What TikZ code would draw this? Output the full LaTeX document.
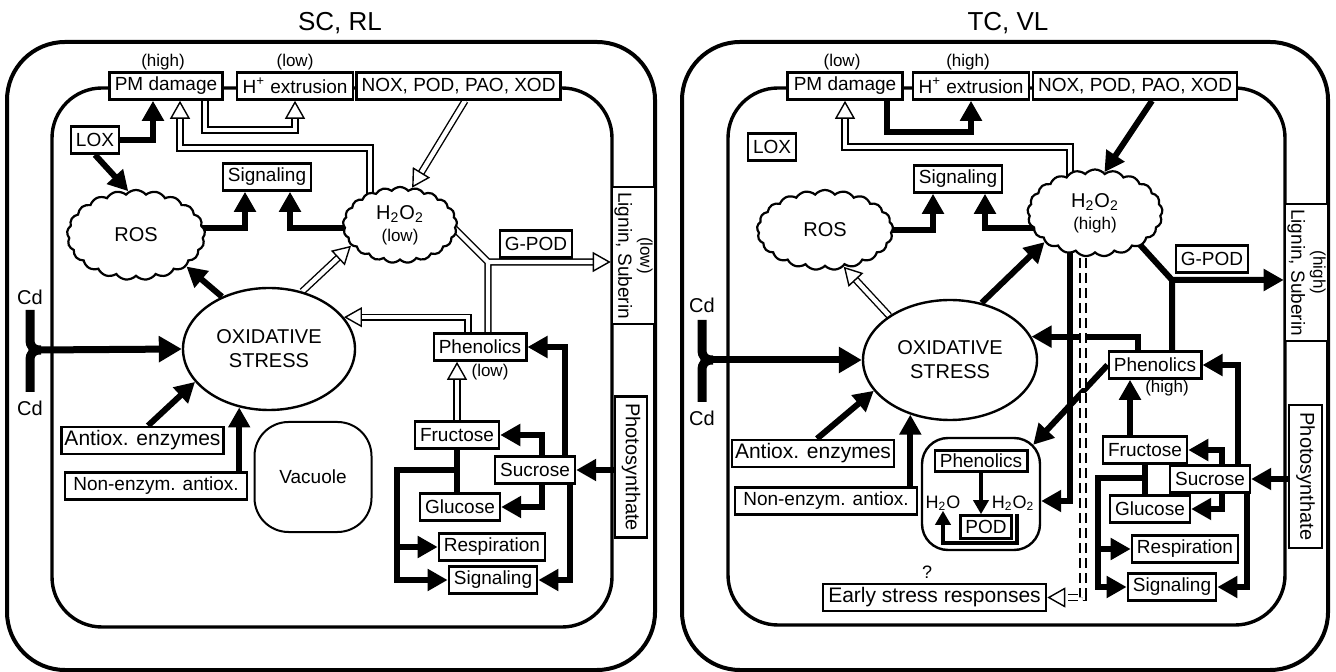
\documentclass[tikz,border=0pt]{standalone}
\usepackage{fontspec}
\setmainfont{Liberation Sans}
\usetikzlibrary{arrows.meta,shapes.geometric,shapes.symbols}
\pgfdeclarelayer{back}
\pgfsetlayers{back,main}

\begin{document}
\begin{tikzpicture}[x=0.5pt,y=-0.5pt,
 box/.style={draw,line width=1.3pt,fill=white,inner xsep=2.5pt,inner ysep=1pt,minimum height=13.5pt,font=\fontsize{9.5}{11}\selectfont},
 bigbox/.style={box,inner xsep=1.5pt,font=\fontsize{10.5}{12}\selectfont},
 vbox/.style={box,rotate=-90,align=center},
 lbl/.style={inner sep=0pt,font=\fontsize{8.5}{9}\selectfont},
 cdl/.style={inner sep=0pt,font=\fontsize{10}{11}\selectfont},
 ttl/.style={inner sep=0pt,font=\fontsize{13}{15}\selectfont},
 puff/.style={cloud,cloud puffs=21,cloud puff arc=100,cloud ignores aspect,draw,line width=1.1pt,fill=white,align=center,inner sep=0pt,font=\fontsize{10}{11}\selectfont},
 stress/.style={ellipse,draw,line width=1.2pt,fill=white,inner sep=0pt,align=center,font=\fontsize{10}{12}\selectfont},
 wall/.style={line width=2pt,rounded corners=29pt},
 membrane/.style={line width=1.7pt,rounded corners=25pt},
 blk/.style={line width=3pt,-{Triangle[length=10pt,width=10.5pt]}},
 blks/.style={line width=2pt,-{Triangle[length=7pt,width=7.5pt]}},
 blkline/.style={line width=3pt},
 cdbar/.style={line width=4.5pt},
 cdarrow/.style={line width=3.5pt,-{Triangle[length=11.5pt,width=12.5pt]}},
 hol/.style={double,double distance=2.2pt,line width=0.7pt,-{Triangle[open,length=9pt,width=10pt]}},
 hold/.style={hol,dash pattern=on 5pt off 2.5pt}]
\useasboundingbox (0,0) rectangle (1336,672);

% SC, RL
\node[ttl] (ttlL) at (340,23) {SC, RL};
\node[lbl] (hiL) at (163,62) {(high)};
\node[lbl] (loL) at (295,62) {(low)};
\node[box,minimum width=56pt] (pmL) at (166,86) {PM damage};
\node[box,minimum width=58pt] (hxL) at (295,86) {H\textsuperscript{+} extrusion};
\node[box,minimum width=95.5pt] (noxL) at (458.5,86) {NOX, POD, PAO, XOD};
\node[box] (loxL) at (95,140) {LOX};
\node[box] (sigL) at (267,177) {Signaling};
\node[puff,minimum width=69pt,minimum height=45pt] (rosL) at (136,235) {ROS};
\node[puff,minimum width=57pt,minimum height=38pt] (hpL) at (400,225) {H\textsubscript{2}O\textsubscript{2}\\{\fontsize{8.5}{9}\selectfont(low)}};
\node[stress,minimum width=86pt,minimum height=61pt] (osL) at (269,349) {OXIDATIVE\\STRESS};
\node[box] (gpL) at (536,244) {G-POD};
\node[vbox,minimum width=67.5pt,minimum height=21.5pt] (ligL) at (633.5,255.5) {{\fontsize{8.5}{9}\selectfont(low)}\\Lignin, Suberin};
\node[box] (phL) at (480,347) {Phenolics};
\node[lbl] (phlL) at (490,372) {(low)};
\node[box] (frL) at (457,435) {Fructose};
\node[box] (sucL) at (535,470) {Sucrose};
\node[box] (glL) at (460,507) {Glucose};
\node[box] (reL) at (492,547) {Respiration};
\node[box] (sgL) at (493,580) {Signaling};
\node[vbox,minimum width=70.5pt,minimum height=16pt,font=\fontsize{10}{11}\selectfont] (phoL) at (631,467) {Photosynthate};
\node[bigbox,minimum width=79.5pt] (aeL) at (142.5,440.5) {Antiox. enzymes};
\node[box,minimum width=91pt] (neL) at (156,486) {Non-enzym. antiox.};
\node[draw,line width=1pt,rounded corners=17pt,minimum width=58.5pt,minimum height=55pt,font=\fontsize{9.5}{10}\selectfont] (vacL) at (313,477) {Vacuole};
\node[cdl] (cdaL) at (30,297) {Cd};
\node[cdl] (cdbL) at (30,408) {Cd};

% TC, VL
\node[ttl] (ttlR) at (1008,23) {TC, VL};
\node[lbl] (loR) at (842,62) {(low)};
\node[lbl] (hiR) at (968,62) {(high)};
\node[box,minimum width=57.5pt] (pmR) at (845,86) {PM damage};
\node[box,minimum width=58pt] (hxR) at (971,86) {H\textsuperscript{+} extrusion};
\node[box,minimum width=95pt] (noxR) at (1135,86) {NOX, POD, PAO, XOD};
\node[box] (loxR) at (772,147) {LOX};
\node[box] (sigR) at (958,179) {Signaling};
\node[puff,minimum width=68pt,minimum height=40pt] (rosR) at (825,230) {ROS};
\node[puff,minimum width=67.5pt,minimum height=43.5pt] (hpR) at (1095,213) {H\textsubscript{2}O\textsubscript{2}\\{\fontsize{8.5}{9}\selectfont(high)}};
\node[stress,minimum width=87pt,minimum height=60pt] (osR) at (950,360) {OXIDATIVE\\STRESS};
\node[box] (gpR) at (1212,259) {G-POD};
\node[vbox,minimum width=67.5pt,minimum height=21.5pt] (ligR) at (1306.5,272.5) {{\fontsize{8.5}{9}\selectfont(high)}\\Lignin, Suberin};
\node[box] (phR) at (1155,365) {Phenolics};
\node[lbl] (phhR) at (1167,388) {(high)};
\node[box] (frR) at (1145,450) {Fructose};
\node[box] (sucR) at (1210,479) {Sucrose};
\node[box] (glR) at (1150,509) {Glucose};
\node[box] (reR) at (1185,549) {Respiration};
\node[box] (sgR) at (1172,587) {Signaling};
\node[vbox,minimum width=71.5pt,minimum height=16.5pt,font=\fontsize{10}{11}\selectfont] (phoR) at (1305.5,476.5) {Photosynthate};
\node[bigbox,minimum width=80pt] (aeR) at (813,453.5) {Antiox. enzymes};
\node[box,minimum width=91pt] (neR) at (826,501) {Non-enzym. antiox.};
\node[draw,line width=1.2pt,fill=white,rounded corners=13pt,minimum width=59pt,minimum height=56pt] (podcR) at (981,494) {};
\node[box,inner ysep=0pt,minimum height=10.5pt] (phiR) at (981,461) {Phenolics};
\node[cdl,font=\fontsize{9}{10}\selectfont] (h2oR) at (943,503) {H\textsubscript{2}O};
\node[cdl,font=\fontsize{9}{10}\selectfont] (h2o2R) at (1013,503) {H\textsubscript{2}O\textsubscript{2}};
\node[box,inner ysep=0pt,minimum height=11.5pt] (podR) at (986,527) {POD};
\node[bigbox,minimum width=111.5pt] (esR) at (934.5,597.5) {Early stress responses};
\node[lbl,font=\fontsize{9}{10}\selectfont] (qR) at (927,572) {?};
\node[cdl] (cdaR) at (702,305) {Cd};
\node[cdl] (cdbR) at (702,418) {Cd};

\begin{pgfonlayer}{back}
\draw[wall] (7,42) rectangle (655,670);
\draw[membrane] (52,88) rectangle (612,627);
\draw[wall] (682,42) rectangle (1328,670);
\draw[membrane] (728,88) rectangle (1285,625);

\draw[blk] (loxL.east) -| (153,0 |- pmL.south);
\draw[blk] (loxL.south) -- (rosL.100);
\draw[blk] (rosL.center |- 0,228) -| (245,0 |- sigL.south);
\draw[blk] (hpL.center |- 0,228) -| (290,0 |- sigL.south);
\draw[blk] (osL.132) -- (rosL.-32);
\draw[hol] (205,0 |- pmL.south) |- (hxL.south |- 0,130) -- (hxL.south);
\draw[hol] (370,225) |- (180,148) -- (180,0 |- pmL.south);
\draw[hol] (465,0 |- noxL.south) -- (hpL.72);
\draw[hol] (osL.60) -- (hpL.203);
\draw[hol] (468,0 |- phL.north) |- (osL.23);
\draw[hol] (488,262) -- (488,0 |- phL.north) (450,224) -- (488,262) -- (ligL.south |- 0,262);
\draw[hol] (frL.north) -- (frL.north |- phL.south);
\draw[blk] (phoL.south |- sucL.east) -- (sucL.east);
\draw[blk] (565,0 |- sucL.north) |- (phL.east);
\draw[blk] (542,0 |- sucL.north) |- (frL.east);
\draw[blk] (542,0 |- sucL.south) |- (glL.east);
\draw[blk] (570,0 |- sucL.south) |- (sgL.east);
\draw[blkline] (frL.south) -- (frL.south |- glL.north);
\draw[blk] (frL.south |- 0,470) -| (397,0 |- sgL.west) -- (sgL.west);
\draw[blk] (397,0 |- reL.west) -- (reL.west);
\draw[cdbar] (30,310) -- (30,339) .. controls (30,347) and (33,350) .. (41,350) .. controls (33,350) and (30,353) .. (30,361) -- (30,392);
\draw[cdarrow] (38,350) -- (osL.west);
\draw[blk] (148,0 |- aeL.north) -- (osL.204);
\draw[blk] (osL.243 |- neL.north) -- (osL.243);

\draw[blk] (887,0 |- pmR.south) |- (hxR.south |- 0,132) -- (hxR.south);
\draw[hol] (1070,205) |- (pmR.south |- 0,147) -- (pmR.south);
\draw[blk] (1152,0 |- noxR.south) -- (hpR.77);
\draw[blk] (rosR.center) -| (933,0 |- sigR.south);
\draw[blk] (hpR.center |- 0,228) -| (985,0 |- sigR.south);
\draw[hol] (osR.144) -- (rosR.-63);
\draw[blk] (osR.61) -- (hpR.210);
\draw[blk] (1172,280) -- (1172,0 |- phR.north) (1132,236) -- (1172,280) -- (ligR.south |- 0,280);
\draw[blk] (1138,0 |- phR.north) |- (osR.16);
\draw[blk] (phR.west) -- ([xshift=-4pt,yshift=-4pt]podcR.north east);
\draw[blk] (hpR.center -| 1070,0) |- (podcR.east |- 0,501);
\draw[hold] (hpR.center -| 1083,0) |- (esR.east);
\draw[blk] (1130,0 |- frR.north) -- (1130,0 |- phR.south);
\draw[blk] (phoR.south |- sucR.east) -- (sucR.east);
\draw[blk] (1238,0 |- sucR.north) |- (phR.east);
\draw[blk] (1222,0 |- sucR.north) |- (frR.east);
\draw[blk] (1222,0 |- sucR.south) |- (glR.east);
\draw[blk] (1247,0 |- sucR.south) |- (sgR.east);
\draw[blkline] (frR.south) -- (frR.south |- glR.north);
\draw[blk] (frR.south |- 0,478) -| (1098,0 |- sgR.west) -- (sgR.west);
\draw[blk] (1098,0 |- reR.west) -- (reR.west);
\draw[cdbar] (702,320) -- (702,349) .. controls (702,357) and (705,360) .. (713,360) .. controls (705,360) and (702,363) .. (702,371) -- (702,402);
\draw[cdarrow] (710,360) -- (osR.west);
\draw[blk] (817,0 |- aeR.north) -- (osR.202);
\draw[blk] (osR.234 |- neR.north) -- (osR.234);
\end{pgfonlayer}
\draw[blks] (phiR.south) -- (phiR.south |- podR.north);
\draw[blks] (1017,0 |- podR.north) |- (h2oR.south |- 0,543) -- (h2oR.south);
\end{tikzpicture}
\end{document}
